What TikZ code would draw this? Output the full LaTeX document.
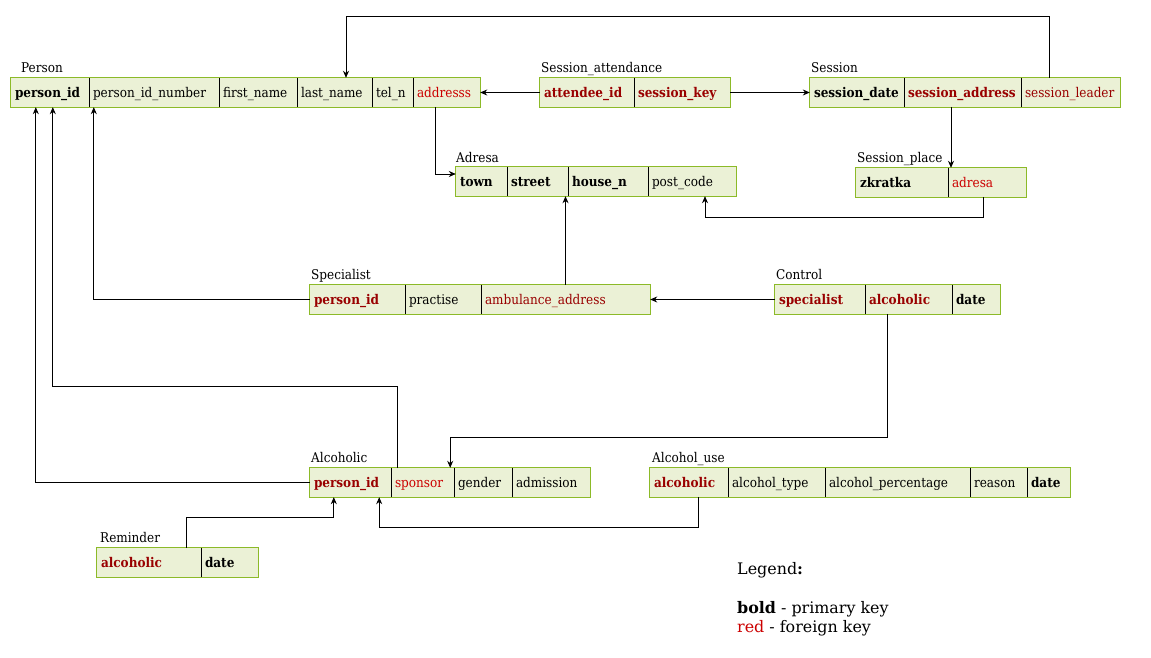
\documentclass[tikz,border=0pt]{standalone}
\usepackage{fontspec}
\setmainfont{DejaVu Serif Condensed}
\newfontfamily\legfont{DejaVu Serif}
\usetikzlibrary{arrows.meta}
\definecolor{cellfill}{RGB}{235,241,214}
\definecolor{cellborder}{RGB}{140,186,40}
\definecolor{pkfk}{RGB}{153,0,0}
\definecolor{fkred}{RGB}{204,0,0}
\newcommand\cellnode[5]{%
  \pgfmathsetmacro\cx{(#2+#3)/2}%
  \pgfmathsetmacro\cw{#3-#2-8}%
  \node[cell,text width=\cw pt] (#1) at (\cx,#4) {#5};}
\tikzset{
  cell/.style={fill=cellfill,inner xsep=4pt,inner ysep=0pt,minimum height=29pt,text height=12.5pt,text depth=3pt,align=left,font=\fontsize{13.4}{15}\selectfont},
  border/.style={draw=cellborder,line width=1pt},
  divline/.style={draw=black,line width=0.8pt},
  lbl/.style={anchor=base west,inner sep=0pt,font=\fontsize{13.4}{15}\selectfont},
  leg/.style={anchor=base west,inner sep=0pt,font=\legfont\fontsize{15.9}{18}\selectfont},
  arr/.style={draw=black,line width=0.8pt,-{Stealth[length=7pt,width=6pt]}}
}
\begin{document}
\begin{tikzpicture}[x=1pt,y=-1pt]
\useasboundingbox (0,0) rectangle (1151,658);
\fill[white] (0,0) rectangle (1151,658);

% Person
\node[lbl] (personlbl) at (21,73) {Person};
\cellnode{ppid}{11}{89}{92.5}{\textbf{person\_id}}
\cellnode{pnum}{89}{219}{92.5}{person\_id\_number}
\cellnode{fname}{219}{297}{92.5}{first\_name}
\cellnode{lname}{297}{372}{92.5}{last\_name}
\cellnode{tel}{372}{413}{92.5}{tel\_n}
\cellnode{adr}{413}{480}{92.5}{\textcolor{fkred}{addresss}}
\draw[border] (ppid.north west) rectangle (adr.south east);
\foreach \c in {ppid,pnum,fname,lname,tel}{\draw[divline] (\c.north east) -- (\c.south east);}

% Session_attendance
\node[lbl] (salbl) at (541,73) {Session\_attendance};
\cellnode{att}{540}{634}{92.5}{\textcolor{pkfk}{\textbf{attendee\_id}}}
\cellnode{skey}{634}{730}{92.5}{\textcolor{pkfk}{\textbf{session\_key}}}
\draw[border] (att.north west) rectangle (skey.south east);
\draw[divline] (att.north east) -- (att.south east);

% Session
\node[lbl] (slbl) at (811,73) {Session};
\cellnode{sdate}{810}{904}{92.5}{\textbf{session\_date}}
\cellnode{saddr}{904}{1021}{92.5}{\textcolor{pkfk}{\textbf{session\_address}}}
\cellnode{sleader}{1021}{1120}{92.5}{\textcolor{pkfk}{session\_leader}}
\draw[border] (sdate.north west) rectangle (sleader.south east);
\foreach \c in {sdate,saddr}{\draw[divline] (\c.north east) -- (\c.south east);}

% Adresa
\node[lbl] (alblx) at (456,162) {Adresa};
\cellnode{town}{456}{507}{181.5}{\textbf{town}}
\cellnode{street}{507}{568}{181.5}{\textbf{street}}
\cellnode{house}{568}{648}{181.5}{\textbf{house\_n}}
\cellnode{pcode}{648}{736}{181.5}{post\_code}
\draw[border] (town.north west) rectangle (pcode.south east);
\foreach \c in {town,street,house}{\draw[divline] (\c.north east) -- (\c.south east);}

% Session_place
\node[lbl] (splbl) at (857,162) {Session\_place};
\cellnode{zk}{856}{948}{182.5}{\textbf{zkratka}}
\cellnode{padr}{948}{1026}{182.5}{\textcolor{fkred}{adresa}}
\draw[border] (zk.north west) rectangle (padr.south east);
\draw[divline] (zk.north east) -- (zk.south east);

% Specialist
\node[lbl] (speclbl) at (311,279) {Specialist};
\cellnode{spid}{310}{405}{299.5}{\textcolor{pkfk}{\textbf{person\_id}}}
\cellnode{prac}{405}{481}{299.5}{practise}
\cellnode{amb}{481}{650}{299.5}{\textcolor{pkfk}{ambulance\_address}}
\draw[border] (spid.north west) rectangle (amb.south east);
\foreach \c in {spid,prac}{\draw[divline] (\c.north east) -- (\c.south east);}

% Control
\node[lbl] (clbl) at (776,279) {Control};
\cellnode{cspec}{775}{865}{299.5}{\textcolor{pkfk}{\textbf{specialist}}}
\cellnode{calc}{865}{952}{299.5}{\textcolor{pkfk}{\textbf{alcoholic}}}
\cellnode{cdate}{952}{1000}{299.5}{\textbf{date}}
\draw[border] (cspec.north west) rectangle (cdate.south east);
\foreach \c in {cspec,calc}{\draw[divline] (\c.north east) -- (\c.south east);}

% Alcoholic
\node[lbl] (allbl) at (311,462) {Alcoholic};
\cellnode{apid}{310}{391}{482.5}{\textcolor{pkfk}{\textbf{person\_id}}}
\cellnode{spons}{391}{454}{482.5}{\textcolor{fkred}{sponsor}}
\cellnode{gender}{454}{512}{482.5}{gender}
\cellnode{adm}{512}{590}{482.5}{admission}
\draw[border] (apid.north west) rectangle (adm.south east);
\foreach \c in {apid,spons,gender}{\draw[divline] (\c.north east) -- (\c.south east);}

% Alcohol_use
\node[lbl] (aulbl) at (652,462) {Alcohol\_use};
\cellnode{aual}{650}{728}{482.5}{\textcolor{pkfk}{\textbf{alcoholic}}}
\cellnode{atype}{728}{825}{482.5}{alcohol\_type}
\cellnode{aperc}{825}{970}{482.5}{alcohol\_percentage}
\cellnode{reason}{970}{1027}{482.5}{reason}
\cellnode{audate}{1027}{1070}{482.5}{\textbf{date}}
\draw[border] (aual.north west) rectangle (audate.south east);
\foreach \c in {aual,atype,aperc,reason}{\draw[divline] (\c.north east) -- (\c.south east);}

% Reminder
\node[lbl] (rlbl) at (100,542) {Reminder};
\cellnode{ral}{97}{201}{562.5}{\textcolor{pkfk}{\textbf{alcoholic}}}
\cellnode{rdate}{201}{258}{562.5}{\textbf{date}}
\draw[border] (ral.north west) rectangle (rdate.south east);
\draw[divline] (ral.north east) -- (ral.south east);

% Connectors
\draw[arr] (att.west) -- (adr.east);
\draw[arr] (skey.east) -- (sdate.west);
\draw[arr] ([xshift=-21.5pt]sleader.north) -- ++(0,-61) -| ([xshift=11.5pt]lname.north);
\draw[arr] ([xshift=-11.5pt]adr.south) |- ([yshift=7.5pt]town.west);
\draw[arr] ([xshift=-11.5pt]saddr.south) -- ([xshift=-11.5pt]saddr.south |- zk.north);
\draw[arr] ([xshift=-4pt]padr.south) -- ++(0,20) -| ([xshift=13pt]pcode.south);
\draw[arr] (amb.north) -- (amb.north |- street.south);
\draw[arr] (spid.west) -| ([xshift=5pt]pnum.south west);
\draw[arr] (cspec.west) -- (amb.east);
\draw[arr] ([xshift=-21.5pt]calc.south) -- ++(0,123) -| ([xshift=-4pt]spons.north east);
\draw[arr] ([xshift=7pt]spons.north west) -- ++(0,-81) -| ([xshift=42pt]ppid.south west);
\draw[arr] (apid.west) -| ([xshift=25pt]ppid.south west);
\draw[arr] ([xshift=9pt]aual.south) -- ++(0,30) -| ([xshift=-12pt]apid.south east);
\draw[arr] ([xshift=37pt]ral.north) -- ++(0,-30) -| ([xshift=24pt]apid.south west);

% Legend
\node[leg] (leg1) at (737,574) {Legend\textbf{:}};
\node[leg] (leg2) at (737,613) {\textbf{bold} - primary key};
\node[leg] (leg3) at (737,632) {\textcolor{fkred}{red} - foreign key};
\end{tikzpicture}
\end{document}
